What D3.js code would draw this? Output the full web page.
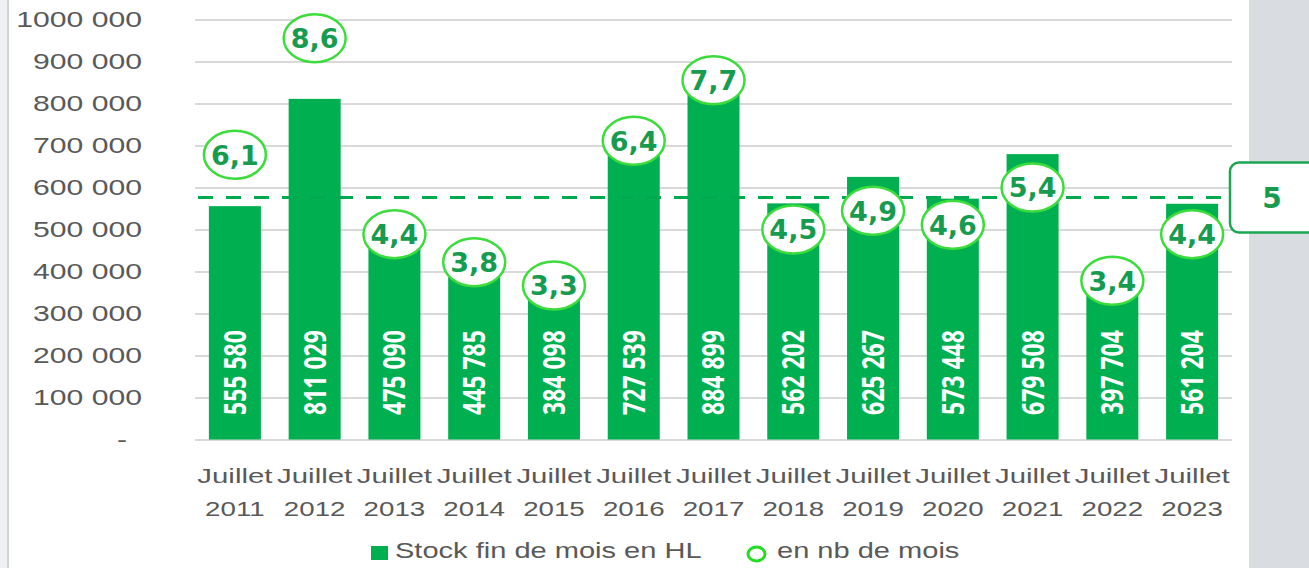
<!DOCTYPE html>
<html>
<head>
<meta charset="utf-8">
<script src="https://cdn.jsdelivr.net/npm/d3@7"></script>
<style>
  body { margin: 0; background: #fff; }
  svg { display: block; }
</style>
</head>
<body>
<div class="container"></div>
<script>
// chart data
var categories = ['Juillet 2011', 'Juillet 2012', 'Juillet 2013', 'Juillet 2014', 'Juillet 2015', 'Juillet 2016',
  'Juillet 2017', 'Juillet 2018', 'Juillet 2019', 'Juillet 2020', 'Juillet 2021', 'Juillet 2022', 'Juillet 2023'];
var stockValues = [555580, 811029, 475090, 445785, 384098, 727539, 884899, 562202, 625267, 573448, 679508, 397704, 561204];
var monthValues = [6.1, 8.6, 4.4, 3.8, 3.3, 6.4, 7.7, 4.5, 4.9, 4.6, 5.4, 3.4, 4.4];
var yTickValues = [0, 100000, 200000, 300000, 400000, 500000, 600000, 700000, 800000, 900000, 1000000];
var yTickLabels = ['-', '100 000', '200 000', '300 000', '400 000', '500 000', '600 000', '700 000', '800 000', '900 000', '1000 000'];
var seriesNames = ['Stock fin de mois en HL', 'en nb de mois'];
var refStock = 576000;
var refLabel = '5';

var w = 1309, h = 568;
// note: "top" is taken by window.top, so plotTop
var plotLeft = 195, plotRight = 1232, plotTop = 19.5, plotBase = 439.5;
var stretch = 1.32;   // the source picture is widened, text too
var barGreen = '#00b050';
var textGreen = '#169b4f';
var ringGreen = '#3ddc3d';
var grey = '#595959';
var sansFont = '"Liberation Sans", Arial, sans-serif';

var fr = d3.formatLocale({ decimal: ',', thousands: ' ', grouping: [3], currency: ['', ' €'] });
var fmtInt = fr.format(',d');
var fmtDec = fr.format('.1f');

var svg = d3.select('.container')
  .append('svg')
  .attr('width', w)
  .attr('height', h);

/* page frame: left strip and grey panel on the right */
svg.append('rect').attr('x', 0).attr('y', 0).attr('width', 7).attr('height', h).attr('fill', '#eff0f1');
svg.append('line').attr('x1', 8).attr('x2', 8).attr('y1', 0).attr('y2', h)
  .attr('stroke', '#d2d2d2').attr('stroke-width', 2);
svg.append('rect').attr('x', 1249).attr('y', 0).attr('width', w - 1249).attr('height', h).attr('fill', '#d9dde1');

/* scales */
var xScale = d3.scaleBand()
  .domain(categories)
  .range([plotLeft, plotRight])
  .paddingInner(0.348)
  .paddingOuter(0.174);

var yScale = d3.scaleLinear()
  .domain([0, 1000000])
  .range([plotBase, plotTop]);

var mScale = d3.scaleLinear()
  .domain([0, 9])
  .range([plotBase, plotTop]);

function cx(i) {
  return xScale(categories[i]) + xScale.bandwidth() / 2;
}

/* y axis with gridlines */
var yAxis = d3.axisLeft(yScale)
  .tickValues(yTickValues)
  .tickSize(-(plotRight - plotLeft))
  .tickPadding(0)
  .tickFormat(function(d, i) { return yTickLabels[i]; });

var gy = svg.append('g')
  .attr('transform', 'translate(' + plotLeft + ',0)')
  .call(yAxis);
gy.select('.domain').remove();
gy.selectAll('line').attr('stroke', '#d9d9d9').attr('stroke-width', 2);
gy.selectAll('text')
  .attr('x', 0)
  .attr('transform', function(d, i) {
    var off = i === 0 ? -68 : -53;
    return 'translate(' + off + ',0) scale(' + (stretch + 0.05) + ',1)';
  })
  .attr('font-family', sansFont)
  .attr('font-size', '22px')
  .attr('fill', grey);

/* bars */
svg.selectAll('.bar')
  .data(stockValues)
  .enter()
  .append('rect')
  .attr('class', 'bar')
  .attr('x', function(d, i) { return xScale(categories[i]); })
  .attr('width', xScale.bandwidth())
  .attr('y', function(d) { return yScale(d); })
  .attr('height', function(d) { return plotBase - yScale(d); })
  .attr('fill', barGreen);

/* values inside bars */
svg.selectAll('.barLabel')
  .data(stockValues)
  .enter()
  .append('text')
  .attr('class', 'barLabel')
  .attr('transform', function(d, i) {
    return 'translate(' + cx(i) + ',415) scale(' + stretch + ',1) rotate(-90)';
  })
  .attr('dy', '0.36em')
  .attr('text-anchor', 'start')
  .attr('font-family', '"Open Sans", sans-serif')
  .attr('font-weight', 700)
  .attr('font-size', '23px')
  .attr('fill', '#fff')
  .text(function(d) { return fmtInt(d); });

/* reference line (5 mois) */
var yRef = yScale(refStock);
svg.append('line')
  .attr('x1', 198).attr('x2', 1228)
  .attr('y1', yRef).attr('y2', yRef)
  .attr('stroke', '#00a84f')
  .attr('stroke-width', 3)
  .attr('stroke-dasharray', '15,13');

svg.append('rect')
  .attr('x', 1230).attr('y', yRef - 35)
  .attr('width', 100).attr('height', 70)
  .attr('rx', 9)
  .attr('fill', '#fff')
  .attr('stroke', '#1ba653')
  .attr('stroke-width', 2.5);
svg.append('text')
  .attr('x', 1272).attr('y', yRef)
  .attr('dy', '0.36em')
  .attr('text-anchor', 'middle')
  .attr('font-family', '"DejaVu Sans", sans-serif')
  .attr('font-weight', 'bold')
  .attr('font-size', '28px')
  .attr('fill', textGreen)
  .text(refLabel);

/* month bubbles */
var bubbles = svg.selectAll('.bubble')
  .data(monthValues)
  .enter()
  .append('g')
  .attr('class', 'bubble')
  .attr('transform', function(d, i) { return 'translate(' + cx(i) + ',' + mScale(d) + ')'; });

bubbles.append('ellipse')
  .attr('rx', 31).attr('ry', 24)
  .attr('fill', '#fff')
  .attr('stroke', ringGreen)
  .attr('stroke-width', 2.5);

bubbles.append('text')
  .attr('dy', '0.36em')
  .attr('text-anchor', 'middle')
  .attr('font-family', '"DejaVu Sans", sans-serif')
  .attr('font-weight', 'bold')
  .attr('font-size', '27px')
  .attr('fill', textGreen)
  .text(function(d) { return fmtDec(d); });

/* x labels, two lines */
var xl = svg.selectAll('.xLabel')
  .data(categories)
  .enter()
  .append('g')
  .attr('class', 'xLabel')
  .attr('transform', function(d, i) { return 'translate(' + cx(i) + ',0)'; });

xl.append('text')
  .attr('y', 483)
  .attr('transform', 'scale(1.4,1)')
  .attr('text-anchor', 'middle')
  .attr('font-family', sansFont)
  .attr('font-size', '21px')
  .attr('fill', grey)
  .text(function(d) { return d.split(' ')[0]; });

xl.append('text')
  .attr('y', 516)
  .attr('transform', 'scale(' + stretch + ',1)')
  .attr('text-anchor', 'middle')
  .attr('font-family', sansFont)
  .attr('font-size', '21px')
  .attr('fill', grey)
  .text(function(d) { return d.split(' ')[1]; });

/* legend */
svg.append('rect').attr('x', 371).attr('y', 546).attr('width', 17).attr('height', 14).attr('fill', barGreen);
svg.append('text')
  .attr('transform', 'translate(395,558) scale(' + stretch + ',1)')
  .attr('font-family', sansFont).attr('font-size', '22px').attr('fill', grey)
  .text(seriesNames[0]);

svg.append('ellipse').attr('cx', 756.5).attr('cy', 554).attr('rx', 8.5).attr('ry', 7)
  .attr('fill', '#fff').attr('stroke', '#22dd22').attr('stroke-width', 3);
svg.append('text')
  .attr('transform', 'translate(777,558) scale(' + stretch + ',1)')
  .attr('font-family', sansFont).attr('font-size', '22px').attr('fill', grey)
  .text(seriesNames[1]);
</script>
</body>
</html>
